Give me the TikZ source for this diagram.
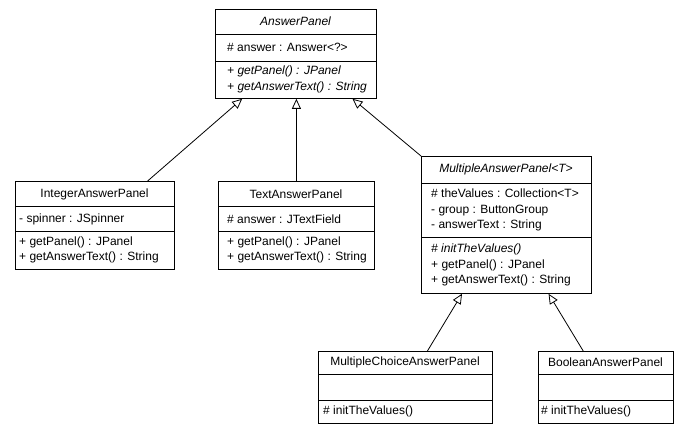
\documentclass[tikz,border=0pt]{standalone}
\usepackage{fontspec}
\setmainfont{Liberation Sans}
\usetikzlibrary{arrows.meta,calc}
\tikzset{
  cls/.style={draw, line width=0.8pt, inner sep=0pt, anchor=north west, fill=white},
  sep/.style={line width=0.8pt},
  txt/.style={font=\fontsize{12}{15.5}\selectfont, inner sep=0pt, align=left, anchor=west},
  itxt/.style={txt, font=\fontsize{12}{15.5}\selectfont\itshape},
  hd/.style={font=\fontsize{12}{15}\selectfont, inner sep=0pt, anchor=center},
  gen/.style={-{Triangle[open,length=10pt,width=9pt]}, line width=0.8pt}
}
\begin{document}
\begin{tikzpicture}[x=1pt,y=-1pt]
\path[fill=white] (0,0) rectangle (689,435);
\useasboundingbox (0,0) rectangle (689,435);

% AnswerPanel
\node[cls, minimum width=161pt, minimum height=89pt] (ap) at (215,9) {};
\draw[sep] (ap.west |- 0,34) -- (ap.east |- 0,34);
\draw[sep] (ap.west |- 0,61) -- (ap.east |- 0,61);
\node[hd] (apn) at (295.5,21.5) {\itshape AnswerPanel};
\node[txt] (apa) at (227,47.5) {\# answer : Answer<?>};
\node[itxt] (apm) at (227,79.5) {+ getPanel() : JPanel\\+ getAnswerText() : String};

% IntegerAnswerPanel
\node[cls, minimum width=159pt, minimum height=88pt] (int) at (15,181) {};
\draw[sep] (int.west |- 0,206.5) -- (int.east |- 0,206.5);
\draw[sep] (int.west |- 0,231) -- (int.east |- 0,231);
\node[hd] (intn) at (94.5,194) {IntegerAnswerPanel};
\node[txt] (inta) at (19,219) {- spinner : JSpinner};
\node[txt] (intm) at (19,250) {+ getPanel() : JPanel\\+ getAnswerText() : String};

% TextAnswerPanel
\node[cls, minimum width=156pt, minimum height=88pt] (txtp) at (218,181) {};
\draw[sep] (txtp.west |- 0,206.5) -- (txtp.east |- 0,206.5);
\draw[sep] (txtp.west |- 0,231) -- (txtp.east |- 0,231);
\node[hd] (txtn) at (296,194) {TextAnswerPanel};
\node[txt] (txta) at (227,219) {\# answer : JTextField};
\node[txt] (txtm) at (227,250) {+ getPanel() : JPanel\\+ getAnswerText() : String};

% MultipleAnswerPanel
\node[cls, minimum width=170pt, minimum height=137pt] (mult) at (421,156) {};
\draw[sep] (mult.west |- 0,183) -- (mult.east |- 0,183);
\draw[sep] (mult.west |- 0,237) -- (mult.east |- 0,237);
\node[hd] (multn) at (506,169.5) {\itshape MultipleAnswerPanel<T>};
\node[txt] (multa) at (431,210) {\# theValues : Collection<T>\\- group : ButtonGroup\\- answerText : String};
\node[txt] (multm) at (431,265) {\textit{\# initTheValues()}\\+ getPanel() : JPanel\\+ getAnswerText() : String};

% MultipleChoiceAnswerPanel
\node[cls, minimum width=174pt, minimum height=72pt] (mc) at (318,351) {};
\draw[sep] (mc.west |- 0,374) -- (mc.east |- 0,374);
\draw[sep] (mc.west |- 0,400) -- (mc.east |- 0,400);
\node[hd] (mcn) at (405,362.5) {MultipleChoiceAnswerPanel};
\node[txt] (mcm) at (323,411.5) {\# initTheValues()};

% BooleanAnswerPanel
\node[cls, minimum width=135pt, minimum height=72pt] (bool) at (538,351) {};
\draw[sep] (bool.west |- 0,374) -- (bool.east |- 0,374);
\draw[sep] (bool.west |- 0,400) -- (bool.east |- 0,400);
\node[hd] (booln) at (605.5,362.5) {BooleanAnswerPanel};
\node[txt] (boolm) at (541,411.5) {\# initTheValues()};

% Generalizations
\draw[gen] ($(int.north west)!0.83!(int.north east)$) -- ($(ap.south west)!0.168!(ap.south east)$);
\draw[gen] (txtp.north) -- (txtp.north |- ap.south);
\draw[gen] (mult.north west) -- ($(ap.south west)!0.85!(ap.south east)$);
\draw[gen] ($(mc.north west)!0.626!(mc.north east)$) -- ($(mult.south west)!0.24!(mult.south east)$);
\draw[gen] ($(bool.north west)!0.333!(bool.north east)$) -- ($(mult.south west)!0.747!(mult.south east)$);
\end{tikzpicture}
\end{document}
